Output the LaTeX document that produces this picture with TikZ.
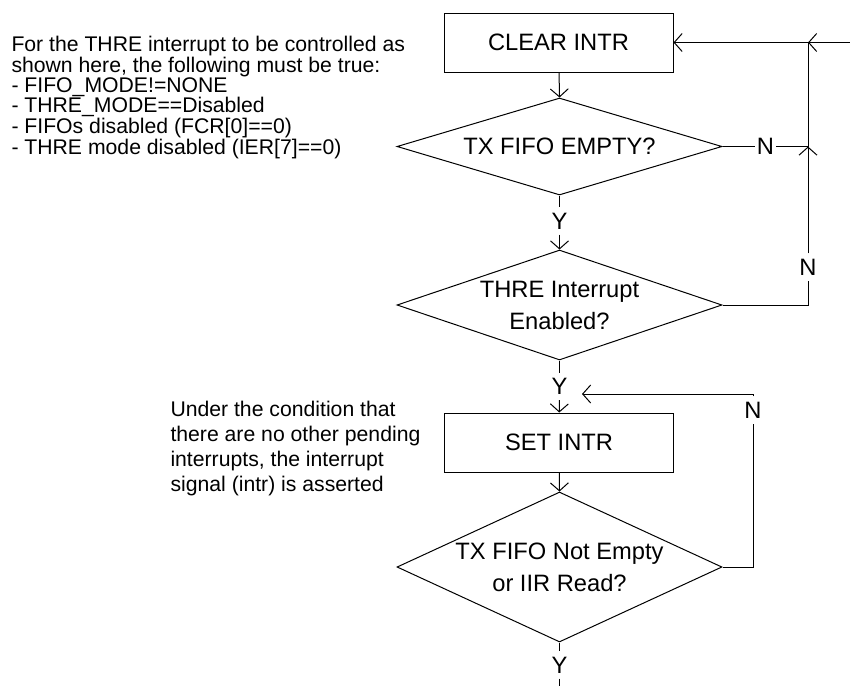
\documentclass[tikz,border=0pt]{standalone}
\usepackage{fontspec}
\setmainfont{Liberation Sans}
\usetikzlibrary{shapes.geometric,arrows.meta}
\newcommand{\lblfont}{\fontsize{23.7pt}{32pt}\selectfont}
\newcommand{\notefontA}{\fontsize{21.2pt}{19pt}\selectfont}
\newcommand{\notefontB}{\fontsize{21.2pt}{25pt}\selectfont}
\begin{document}
\begin{tikzpicture}[x=1pt,y=-1pt,line width=1pt,
  >={Straight Barb[length=8pt,width=18pt]},
  procbox/.style={draw,rectangle,minimum width=229pt,minimum height=59pt,inner sep=0pt,font=\lblfont},
  decision/.style={draw,diamond,inner sep=0pt,minimum width=325pt},
  yn/.style={font=\lblfont,inner xsep=1.5pt,inner ysep=5pt},
  note/.style={align=left,anchor=north west,inner sep=0pt}
]
\useasboundingbox (0,0) rectangle (850,686);

\node[note,font=\notefontA] (n1) at (11,35.5) {For the THRE interrupt to be controlled as\\shown here, the following must be true:\\- FIFO\_MODE!=NONE\\- THRE\_MODE==Disabled\\- FIFOs disabled (FCR[0]==0)\\- THRE mode disabled (IER[7]==0)};
\node[note,font=\notefontB] (n2) at (170,400.5) {Under the condition that\\there are no other pending\\interrupts, the interrupt\\signal (intr) is asserted};

\node[procbox] (clr) at (558.5,42.5) {CLEAR INTR};
\node[decision,minimum height=97pt,label={[font=\lblfont]center:TX FIFO EMPTY?}] (d1) at (559.5,146.5) {};
\node[decision,minimum height=110pt,label={[font=\lblfont,align=center]center:{THRE Interrupt\\Enabled?}}] (d2) at (559.5,305) {};
\node[procbox] (set) at (559,442.5) {SET INTR};
\node[decision,minimum height=150pt,label={[font=\lblfont,align=center]center:{TX FIFO Not Empty\\or IIR Read?}}] (d3) at (559.5,567) {};

\node[yn] (y1) at (559.5,221) {Y};
\node[yn] (y2) at (559.5,386.5) {Y};
\node[yn] (y3) at (559.5,665) {Y};
\node[yn] (nn1) at (765.5,146.5) {N};
\node[yn] (nn2) at (808,267) {N};
\node[yn] (nn3) at (753,410) {N};

\coordinate (j1) at (808,146.5);
\coordinate (j0) at (808,42.5);
\coordinate (e0) at (850,42.5);
\coordinate (t3) at (582,394);
\coordinate (out) at (559.5,686);

\draw[->] (clr) -- (d1.north);
\draw (d1.south) -- (y1);
\draw[->] (y1) -- (d2.north);
\draw (d1.east) -- (nn1);
\draw (nn1) -- (j1);
\draw (d2.east) -| (nn2);
\draw[->] (nn2) -- (j1);
\draw (j1) -- (j0);
\draw[->] (e0) -- (j0);
\draw[->] (j0) -- (clr.east);
\draw (d2.south) -- (y2);
\draw[->] (y2) -- (set);
\draw[->] (set) -- (d3.north);
\draw (d3.east) -| (nn3);
\draw[->] (nn3.north) |- (t3);
\draw (d3.south) -- (y3);
\draw (y3) -- (out);
\end{tikzpicture}
\end{document}
